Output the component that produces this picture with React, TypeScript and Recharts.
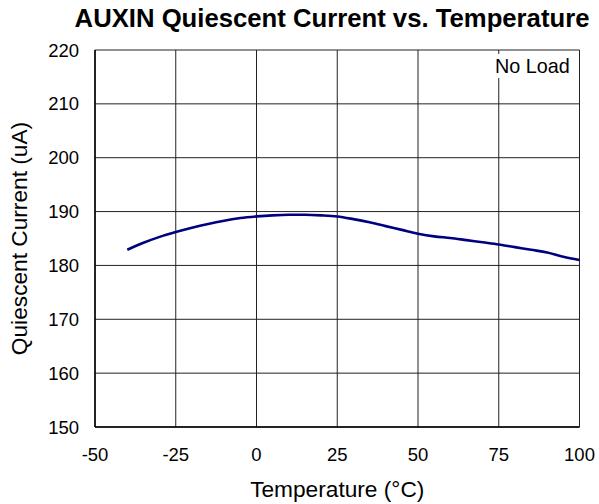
import React from "react";
import { LineChart, Line, XAxis, YAxis, CartesianGrid, Label } from "recharts";

const temperatures = [-40, -35, -30, -25, -20, -15, -10, -5, 0, 5, 10, 15, 20, 25, 30, 35, 40, 45, 50, 55, 60, 65, 70, 75, 80, 85, 90, 95, 100];
const currents = [182.9, 184.2, 185.3, 186.2, 187.0, 187.7, 188.3, 188.8, 189.1, 189.3, 189.4, 189.4, 189.3, 189.1, 188.6, 188.0, 187.3, 186.6, 185.9, 185.4, 185.1, 184.7, 184.3, 183.9, 183.4, 182.9, 182.4, 181.6, 181.0];
const xTicks = [-50, -25, 0, 25, 50, 75, 100];
const yTicks = [150, 160, 170, 180, 190, 200, 210, 220];

const title = "AUXIN Quiescent Current vs. Temperature";
const xTitle = "Temperature (°C)";
const yTitle = "Quiescent Current (uA)";
const note = "No Load";

const data = temperatures.map((t, i) => ({ t, v: currents[i] }));

const FONT = "'Liberation Sans', Arial, Helvetica, sans-serif";
const tickStyle = { fontFamily: FONT, fontSize: 18.5, fill: "#000" };

export default function App() {
  return (
    <div style={{ position: "absolute", left: 0, top: 0, width: 599, height: 504, background: "#fff" }}>
      <div
        style={{
          position: "absolute",
          left: 0,
          width: 664,
          top: 3,
          textAlign: "center",
          fontFamily: FONT,
          fontWeight: "bold",
          fontSize: 25.7,
          lineHeight: "30px",
          color: "#000",
          whiteSpace: "nowrap",
        }}
      >
        {title}
      </div>
      <LineChart width={599} height={504} data={data} margin={{ top: 50, right: 19.5, left: 0, bottom: 0 }}>
        <CartesianGrid stroke="#222" strokeWidth={1} vertical horizontal />
        <XAxis
          dataKey="t"
          type="number"
          domain={[-50, 100]}
          ticks={xTicks}
          tickLine={false}
          tickSize={0}
          tickMargin={21}
          axisLine={{ stroke: "#000", strokeWidth: 1.5 }}
          tick={tickStyle}
          height={77}
          interval={0}
        >
          <Label value={xTitle} position="insideBottom" offset={7} style={{ fontFamily: FONT, fontSize: 22.7, fill: "#000" }} />
        </XAxis>
        <XAxis
          xAxisId="top"
          orientation="top"
          dataKey="t"
          type="number"
          domain={[-50, 100]}
          ticks={xTicks}
          tick={false}
          tickLine={false}
          height={0}
          axisLine={{ stroke: "#000", strokeWidth: 1.5 }}
        />
        <YAxis
          type="number"
          domain={[150, 220]}
          ticks={yTicks}
          tickLine={false}
          tickSize={0}
          tickMargin={16}
          axisLine={{ stroke: "#000", strokeWidth: 1.5 }}
          tick={tickStyle}
          width={95}
          interval={0}
        >
          <Label
            value={yTitle}
            angle={-90}
            position="insideLeft"
            offset={19}
            style={{ textAnchor: "middle", fontFamily: FONT, fontSize: 22.7, fill: "#000" }}
          />
        </YAxis>
        <YAxis
          yAxisId="right"
          orientation="right"
          type="number"
          domain={[150, 220]}
          ticks={yTicks}
          tick={false}
          tickLine={false}
          width={0}
          axisLine={{ stroke: "#000", strokeWidth: 1.5 }}
        />
        <Line
          type="monotone"
          dataKey="v"
          stroke="#000080"
          strokeWidth={2.6}
          dot={false}
          isAnimationActive={false}
        />
      </LineChart>
      <div
        style={{
          position: "absolute",
          left: 492,
          top: 54,
          height: 24,
          padding: "0 4px 0 3px",
          background: "#fff",
          fontFamily: FONT,
          fontSize: 19.8,
          lineHeight: "24px",
          color: "#000",
          whiteSpace: "nowrap",
        }}
      >
        {note}
      </div>
    </div>
  );
}
